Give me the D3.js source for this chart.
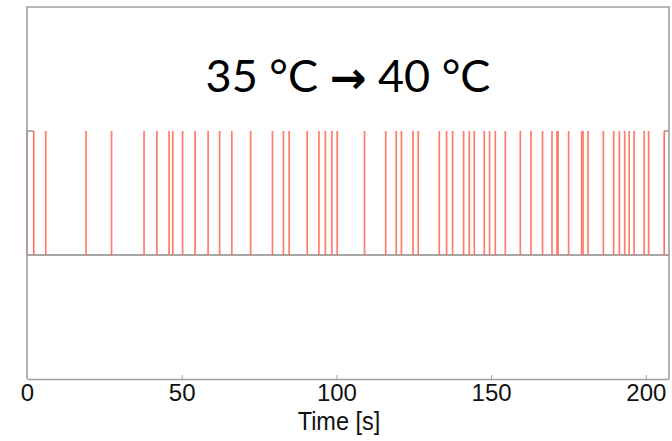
<!DOCTYPE html>
<html>
<head>
<meta charset="utf-8">
<script src="https://cdn.jsdelivr.net/npm/d3@7"></script>
<style>
  html, body { margin: 0; padding: 0; background: #fff; }
  svg { display: block; }
</style>
</head>
<body>
<svg id="chart" width="672" height="441"></svg>
<script>
// Event times (s) at which the channel fires a brief pulse
const pulseTimes = [
  6.05, 19.08, 27.33, 37.84, 41.98, 45.92, 47.12, 50.29, 54.33, 58.54,
  62.26, 66.20, 72.28, 79.33, 82.89, 84.73, 90.56, 94.34, 96.44, 98.54,
  100.26, 109.09, 115.94, 119.34, 121.02, 124.74, 126.46, 133.25, 135.61, 137.55,
  141.11, 142.95, 144.57, 147.80, 149.51, 151.36, 154.59, 159.44, 162.90, 166.62,
  169.69, 171.31, 171.64, 175.06, 179.27, 179.72, 181.34, 186.29, 189.62, 191.46,
  193.18, 194.63, 196.22, 199.48, 200.91
];
// Periods where the channel stays open (start, end) in seconds
const openStarts = [0, 205.95];
const openEnds = [2.17, 207.5];

const xTicks = [0, 50, 100, 150, 200];
const xDomain = [0, 207.5];
const stateDomain = [-1, 2];
const titleText = ["35 °C ", "→", " 40 °C"];
const xLabel = "Time [s]";

const svg = d3.select("#chart");
const plotLeft = 27, plotRight = 669, plotTop = 7, plotBottom = 379;

const x = d3.scaleLinear().domain(xDomain).range([plotLeft, plotRight]);
const y = d3.scaleLinear().domain(stateDomain).range([plotBottom, plotTop]);

const frameColor = "#a0a0a0";
const traceColor = "#8a8a8a";
const pulseColor = "#ff6e5c";

// closed-state baseline
svg.append("line")
  .attr("x1", x(xDomain[0])).attr("x2", x(xDomain[1]))
  .attr("y1", y(0)).attr("y2", y(0))
  .attr("stroke", traceColor).attr("stroke-width", 1.3);

// open-state segments
const openPeriods = openStarts.map((s, i) => [s, openEnds[i]]);
svg.append("g").selectAll("line")
  .data(openPeriods)
  .join("line")
  .attr("x1", d => x(d[0])).attr("x2", d => x(d[1]))
  .attr("y1", y(1)).attr("y2", y(1))
  .attr("stroke", traceColor).attr("stroke-width", 1.3);

// transitions for the open periods
const edges = openPeriods.flat().filter(t => t < xDomain[1]);
svg.append("g").selectAll("line")
  .data(edges)
  .join("line")
  .attr("x1", d => x(d)).attr("x2", d => x(d))
  .attr("y1", y(0)).attr("y2", y(1))
  .attr("stroke", pulseColor).attr("stroke-width", 1.6);

// pulses
svg.append("g").selectAll("line")
  .data(pulseTimes)
  .join("line")
  .attr("x1", d => x(d)).attr("x2", d => x(d))
  .attr("y1", y(0)).attr("y2", y(1))
  .attr("stroke", pulseColor).attr("stroke-width", 1.7)
  .attr("stroke-opacity", 0.9);

// frame
svg.append("path")
  .attr("d", `M${plotLeft},${plotBottom}V${plotTop}H${plotRight}V${plotBottom}`)
  .attr("fill", "none").attr("stroke", frameColor).attr("stroke-width", 1.6);

// bottom axis
const axis = d3.axisBottom(x).tickValues(xTicks).tickSize(0).tickPadding(5).tickFormat(d3.format("d"));
const gx = svg.append("g").attr("transform", `translate(0,${plotBottom})`).call(axis);
gx.select(".domain").attr("stroke", frameColor).attr("stroke-width", 1.6);
gx.selectAll(".tick text")
  .attr("font-family", "'Liberation Sans', Arial, sans-serif")
  .attr("font-size", 24).attr("fill", "#111");
// small inward tick marks
gx.selectAll(".tick").filter(d => d > 0).append("line")
  .attr("y1", 0).attr("y2", -4).attr("stroke", frameColor).attr("stroke-width", 1);

const labelX = (plotLeft + plotRight) / 2 - 9;
svg.append("text")
  .attr("x", labelX).attr("y", 430)
  .attr("text-anchor", "middle")
  .attr("font-family", "'Liberation Sans', Arial, sans-serif")
  .attr("font-size", 25).attr("fill", "#111")
  .attr("transform", `translate(${labelX},0) scale(0.94,1) translate(${-labelX},0)`)
  .text(xLabel);

// title
const title = svg.append("text")
  .attr("x", 348).attr("y", 92)
  .attr("text-anchor", "middle")
  .attr("font-family", "Lato, 'Open Sans', sans-serif")
  .attr("font-size", 45).attr("fill", "#000");
title.append("tspan").text(titleText[0]);
title.append("tspan").attr("font-family", "'DejaVu Sans', sans-serif").attr("font-weight", "bold").attr("font-size", 44).attr("dy", 1).text(titleText[1]);
title.append("tspan").attr("dy", -1).text(titleText[2]);
</script>
</body>
</html>
